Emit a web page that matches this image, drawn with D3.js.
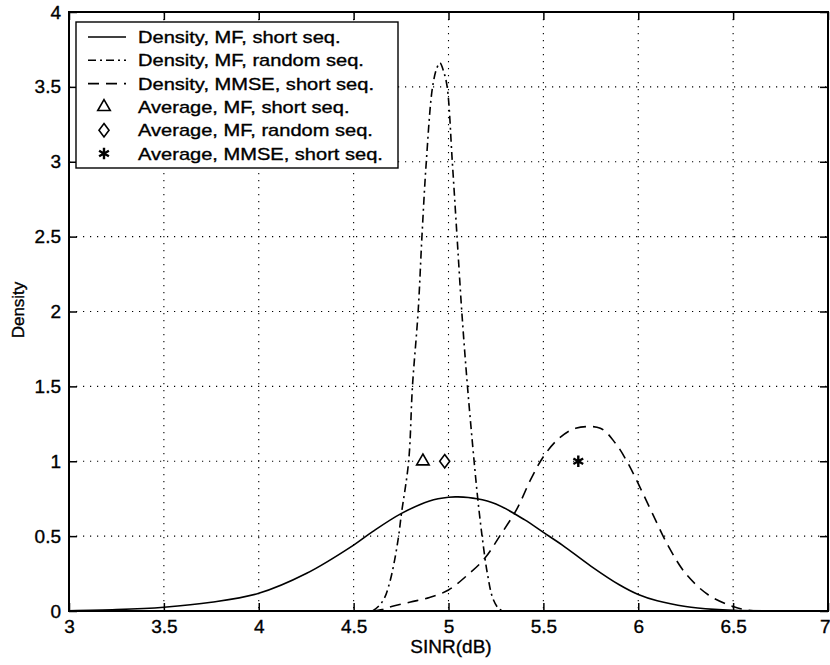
<!DOCTYPE html>
<html lang="en">
<head>
<meta charset="UTF-8">
<title>SINR density</title>
<script src="https://d3js.org/d3.v7.min.js"></script>
<style>
  body { margin: 0; background: #fff; }
  text { font-family: "Liberation Sans", Arial, sans-serif; fill: #000; stroke: #000; stroke-width: 0.35px; }
</style>
</head>
<body>
<div id="chart"></div>
<script>
// Density, MF, short seq. (solid)
const mfShortX = [3.0, 3.25, 3.5, 3.75, 4.0, 4.25, 4.5, 4.6, 4.75, 4.9, 5.0, 5.05, 5.15, 5.25, 5.4, 5.5, 5.6, 5.75, 5.9, 6.0, 6.1, 6.25, 6.4, 6.5, 6.75, 7.0];
const mfShortY = [0.002, 0.009, 0.025, 0.058, 0.118, 0.25, 0.44, 0.53, 0.65, 0.735, 0.76, 0.762, 0.75, 0.715, 0.61, 0.525, 0.44, 0.30, 0.175, 0.11, 0.068, 0.03, 0.011, 0.005, 0.001, 0.0];

// Density, MF, random seq. (dash-dot)
const mfRandX = [4.60, 4.63, 4.66, 4.69, 4.716, 4.737, 4.752, 4.79, 4.81, 4.84, 4.86, 4.883, 4.916, 4.94, 4.955, 4.975, 4.993, 5.02, 5.045, 5.07, 5.10, 5.135, 5.155, 5.177, 5.205, 5.235, 5.27, 5.30];
const mfRandY = [0.0, 0.03, 0.08, 0.19, 0.34, 0.5, 0.65, 1.0, 1.5, 2.0, 2.5, 3.0, 3.5, 3.63, 3.66, 3.6, 3.5, 3.0, 2.5, 2.0, 1.5, 1.0, 0.74, 0.5, 0.25, 0.08, 0.01, 0.0];

// Density, MMSE, short seq. (dashed)
const mmseX = [4.6, 4.65, 4.7, 4.8, 4.9, 5.0, 5.1, 5.19, 5.27, 5.36, 5.43, 5.5, 5.58, 5.67, 5.8, 5.88, 5.94, 6.0, 6.075, 6.16, 6.25, 6.37, 6.5, 6.58, 6.7];
const mmseY = [0.0, 0.01, 0.03, 0.06, 0.09, 0.14, 0.24, 0.35, 0.5, 0.68, 0.87, 1.03, 1.15, 1.22, 1.22, 1.12, 1.0, 0.85, 0.65, 0.43, 0.25, 0.107, 0.03, 0.005, 0.0];

// Averages (markers)
const avgNames = ["Average, MF, short seq.", "Average, MF, random seq.", "Average, MMSE, short seq."];
const avgX = [4.865, 4.98, 5.684];
const avgY = [1, 1, 1];

const densityNames = ["Density, MF, short seq.", "Density, MF, random seq.", "Density, MMSE, short seq."];

const xTicks = [3, 3.5, 4, 4.5, 5, 5.5, 6, 6.5, 7];
const yTicks = [0, 0.5, 1, 1.5, 2, 2.5, 3, 3.5, 4];

const width = 830, height = 665;
const plotLeft = 69, plotRight = 828, plotTop = 12, plotBottom = 611;

const svg = d3.select("#chart").append("svg")
    .attr("width", width)
    .attr("height", height);

const x = d3.scaleLinear().domain([3, 7]).range([plotLeft, plotRight]);
const y = d3.scaleLinear().domain([0, 4]).range([plotBottom, plotTop]);

// dotted grid
svg.append("g").selectAll("line")
    .data(xTicks.slice(1, -1))
    .join("line")
    .attr("x1", d => x(d)).attr("x2", d => x(d))
    .attr("y1", plotTop).attr("y2", plotBottom)
    .attr("stroke", "#000").attr("stroke-width", 1.1)
    .attr("stroke-dasharray", "1.2,5.8");
svg.append("g").selectAll("line")
    .data(yTicks.slice(1, -1))
    .join("line")
    .attr("y1", d => y(d)).attr("y2", d => y(d))
    .attr("x1", plotLeft).attr("x2", plotRight)
    .attr("stroke", "#000").attr("stroke-width", 1.1)
    .attr("stroke-dasharray", "1.2,5.8");

// axes with inward ticks
const styleAxis = g => {
    g.select(".domain").remove();
    g.selectAll(".tick line").attr("stroke", "#000").attr("stroke-width", 1.5);
    g.selectAll("text").style("font-size", "19px").attr("fill", "#000");
};
svg.append("g").attr("transform", `translate(0,${plotBottom})`)
    .call(d3.axisBottom(x).tickValues(xTicks).tickSize(-8).tickPadding(9).tickFormat(d3.format("")))
    .call(styleAxis)
    .call(g => g.selectAll(".tick text").filter(d => d === 7).attr("text-anchor", "end").attr("x", 2));
svg.append("g").attr("transform", `translate(${plotLeft},0)`)
    .call(d3.axisLeft(y).tickValues(yTicks).tickSize(-8).tickPadding(8).tickFormat(d3.format("")))
    .call(styleAxis);
svg.append("g").attr("transform", `translate(0,${plotTop})`)
    .call(d3.axisTop(x).tickValues(xTicks).tickSize(-8).tickFormat(""))
    .call(styleAxis);
svg.append("g").attr("transform", `translate(${plotRight},0)`)
    .call(d3.axisRight(y).tickValues(yTicks).tickSize(-8).tickFormat(""))
    .call(styleAxis);

// frame
svg.append("rect")
    .attr("x", plotLeft).attr("y", plotTop)
    .attr("width", plotRight - plotLeft).attr("height", plotBottom - plotTop)
    .attr("fill", "none").attr("stroke", "#000").attr("stroke-width", 2);

// curves
const line = d3.line()
    .x(d => x(d[0])).y(d => y(Math.max(0, d[1])))
    .curve(d3.curveCatmullRom.alpha(0.5));

const dashes = [null, "8,4,2,4", "11,7"];
const series = [
    d3.zip(mfShortX, mfShortY),
    d3.zip(mfRandX, mfRandY),
    d3.zip(mmseX, mmseY)
];
svg.append("g").selectAll("path")
    .data(series)
    .join("path")
    .attr("d", line)
    .attr("fill", "none")
    .attr("stroke", "#000")
    .attr("stroke-width", 1.6)
    .attr("stroke-dasharray", (d, i) => dashes[i]);

// markers: open triangle, open diamond (MATLAB style), asterisk
const diamondShape = {
    draw(ctx, size) {
        const hh = Math.sqrt(size) * 0.8, hw = hh * 0.75;
        ctx.moveTo(0, -hh);
        ctx.lineTo(hw, 0);
        ctx.lineTo(0, hh);
        ctx.lineTo(-hw, 0);
        ctx.closePath();
    }
};
const symbols = [
    d3.symbol().type(d3.symbolTriangle).size(68),
    d3.symbol().type(diamondShape).size(70),
    d3.symbol().type(d3.symbolAsterisk).size(90)
];
const drawMarker = (g, i) => {
    g.append("path")
        .attr("d", symbols[i]())
        .attr("fill", i === 2 ? "none" : "#fff")
        .attr("stroke", "#000")
        .attr("stroke-width", i === 2 ? 2.4 : 1.6);
};
avgX.forEach((v, i) => {
    const g = svg.append("g").attr("transform", `translate(${x(v)},${y(avgY[i])})`);
    drawMarker(g, i);
});

// legend
const legend = svg.append("g");
legend.append("rect")
    .attr("x", 76).attr("y", 22)
    .attr("width", 322).attr("height", 146)
    .attr("fill", "#fff").attr("stroke", "#000").attr("stroke-width", 1.4);

const rows = densityNames.concat(avgNames);
rows.forEach((name, i) => {
    const base = 43 + i * 23.3;
    const mid = base - 6;
    if (i < 3) {
        legend.append("line")
            .attr("x1", 88).attr("x2", 126)
            .attr("y1", mid).attr("y2", mid)
            .attr("stroke", "#000").attr("stroke-width", 1.6)
            .attr("stroke-dasharray", dashes[i]);
    } else {
        const g = legend.append("g").attr("transform", `translate(104,${mid})`);
        drawMarker(g, i - 3);
    }
    const t = legend.append("text")
        .attr("x", 138).attr("y", base)
        .style("font-size", "17px")
        .text(name);
    const w = t.node().getComputedTextLength();
    t.attr("textLength", w * 1.18).attr("lengthAdjust", "spacingAndGlyphs");
});

// axis titles
svg.append("text")
    .attr("x", 451).attr("y", 653)
    .attr("text-anchor", "middle")
    .style("font-size", "19px")
    .text("SINR(dB)");
svg.append("text")
    .attr("transform", "translate(24,310) rotate(-90)")
    .attr("text-anchor", "middle")
    .style("font-size", "17px")
    .text("Density");
</script>
</body>
</html>
